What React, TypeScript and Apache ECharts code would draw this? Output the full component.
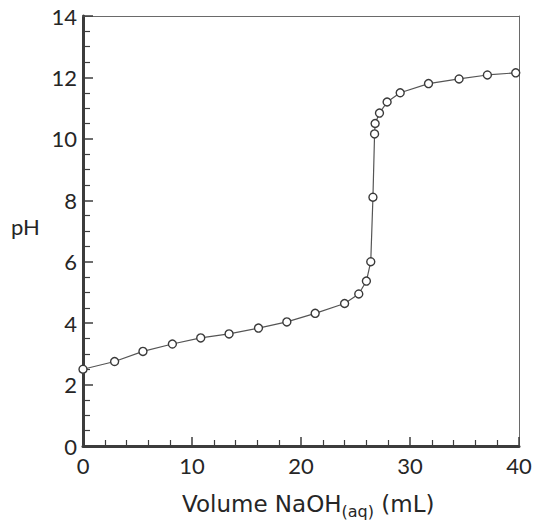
import React, { useEffect, useRef } from "react";
import * as echarts from "echarts";

const volumeML = [0, 2.9, 5.5, 8.2, 10.8, 13.4, 16.1, 18.7, 21.3, 24.0, 25.3, 26.0, 26.4, 26.6, 26.75, 26.8, 27.2, 27.9, 29.1, 31.7, 34.5, 37.1, 39.7];
const pHValues = [2.5, 2.75, 3.08, 3.32, 3.52, 3.65, 3.84, 4.04, 4.32, 4.64, 4.95, 5.37, 6.0, 8.1, 10.16, 10.5, 10.84, 11.2, 11.5, 11.8, 11.95, 12.08, 12.15];

const FONT = "Lato, 'Open Sans', sans-serif";
const TITLE_FONT = "'DejaVu Sans', sans-serif";
const TEXT = "#262626";

export default function App() {
  const ref = useRef<HTMLDivElement>(null);
  useEffect(() => {
    if (!ref.current) return;
    const chart = echarts.init(ref.current, undefined, { renderer: "svg" });
    const data = volumeML.map((v, i) => [v, pHValues[i]]);
    chart.setOption({
      animation: false,
      backgroundColor: "#ffffff",
      grid: { left: 83, right: 16, top: 16, bottom: 79 },
      xAxis: [
        {
          type: "value",
          min: 0,
          max: 40,
          interval: 10,
          axisLine: { show: true, onZero: false, lineStyle: { color: "#3c3c3c", width: 3 } },
          axisTick: { show: true, inside: true, length: 9, lineStyle: { color: "#3c3c3c", width: 1.5 } },
          minorTick: { show: true, splitNumber: 5, length: 6, lineStyle: { color: "#3c3c3c", width: 1.2 } },
          axisLabel: { fontFamily: FONT, fontSize: 22, color: TEXT, margin: 8 },
          splitLine: { show: false },
        },
        {
          type: "value",
          position: "top",
          min: 0,
          max: 40,
          axisLine: { show: true, onZero: false, lineStyle: { color: "#6a6a6a", width: 1 } },
          axisTick: { show: false },
          axisLabel: { show: false },
          splitLine: { show: false },
        },
      ],
      yAxis: [
        {
          type: "value",
          min: 0,
          max: 14,
          interval: 2,
          axisLine: { show: true, onZero: false, lineStyle: { color: "#3c3c3c", width: 3 } },
          axisTick: { show: true, inside: true, length: 10, lineStyle: { color: "#3c3c3c", width: 1.5 } },
          minorTick: { show: true, splitNumber: 4, length: 7, lineStyle: { color: "#3c3c3c", width: 1.2 } },
          axisLabel: { fontFamily: FONT, fontSize: 22, color: TEXT, margin: 6 },
          splitLine: { show: false },
        },
        {
          type: "value",
          position: "right",
          min: 0,
          max: 14,
          axisLine: { show: true, onZero: false, lineStyle: { color: "#6a6a6a", width: 1 } },
          axisTick: { show: false },
          axisLabel: { show: false },
          splitLine: { show: false },
        },
      ],
      graphic: [
        {
          type: "text",
          left: 11,
          top: 215,
          style: { text: "pH", fontFamily: FONT, fontSize: 22, fill: TEXT },
        },
        {
          type: "text",
          left: 182,
          top: 492,
          style: {
            text: "{m|Volume NaOH}{s|(aq)}{m| (mL)}",
            rich: {
              m: { fontFamily: TITLE_FONT, fontSize: 23, fill: TEXT },
              s: { fontFamily: TITLE_FONT, fontSize: 16, fill: TEXT, padding: [16, 0, 0, 0] },
            },
          },
        },
      ],
      series: [
        {
          type: "line",
          xAxisIndex: 0,
          yAxisIndex: 0,
          data,
          symbol: "circle",
          symbolSize: 8,
          showSymbol: true,
          lineStyle: { color: "#555555", width: 1.2 },
          itemStyle: { color: "#ffffff", borderColor: "#3a3a3a", borderWidth: 1.4 },
        },
      ],
    });
    return () => chart.dispose();
  }, []);
  return (
    <div
      ref={ref}
      style={{ position: "absolute", left: 0, top: 0, width: 535, height: 525 }}
    />
  );
}
